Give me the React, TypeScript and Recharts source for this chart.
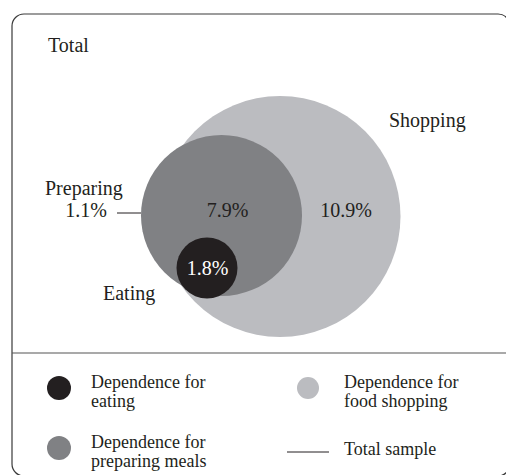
import {
  ScatterChart,
  Scatter,
  XAxis,
  YAxis,
  ReferenceArea,
  ReferenceLine,
} from "recharts";

// Chart is laid out in plot units that map 1:1 to pixels
const CHART_W = 506;
const CHART_H = 475;

// Venn sets: centre and radius of each circle
const setNames = ["Shopping", "Preparing", "Eating"];
const setX = [280, 221.5, 207];
const setY = [216.5, 215.5, 268];
const setR = [120.5, 80.5, 30.5];

// Region percentages
const pctLabels = ["10.9%", "7.9%", "1.8%", "1.1%"];
const pctX = [346, 227.5, 207.5, 86];
const pctY = [217, 217, 275, 217];

// Set name labels
const nameLabels = ["Total", "Shopping", "Preparing", "Eating"];
const nameX = [48, 389, 45, 103];
const nameY = [52, 127, 195, 300];

// Legend entries
const legendLines = [
  ["Dependence for", "eating"],
  ["Dependence for", "preparing meals"],
  ["Dependence for", "food shopping"],
  ["Total sample"],
];
const legendX = [59, 59, 308, 308];
const legendY = [388, 448, 388, 452];

const COLORS: Record<string, string> = {
  Shopping: "#BBBCC0",
  Preparing: "#808184",
  Eating: "#231F20",
};
const INK = "#231F20";
const FONT = "'Liberation Serif', 'Times New Roman', serif";

const circleData = setNames.map((name, i) => ({
  name,
  x: setX[i],
  y: setY[i],
  r: setR[i],
}));

const pctData = pctLabels.map((label, i) => ({
  label,
  x: pctX[i],
  y: pctY[i],
  white: label === "1.8%",
}));

const nameData = nameLabels.map((label, i) => ({
  label,
  x: nameX[i],
  y: nameY[i],
}));

const legendMarkers = [
  { x: legendX[0], y: legendY[0], r: 12, fill: COLORS.Eating },
  { x: legendX[1], y: legendY[1], r: 12, fill: COLORS.Preparing },
  { x: legendX[2], y: legendY[2], r: 11, fill: COLORS.Shopping },
];

const legendText = legendLines.map((lines, i) => ({
  lines,
  x: legendX[i] + (i < 2 ? 32 : 36),
  y: i === 3 ? 455 : legendY[i],
}));

// pixels per plot unit
const unit = 1;

const CircleShape = (props: any) => (
  <circle
    cx={props.cx}
    cy={props.cy}
    r={props.payload.r * unit}
    fill={props.payload.fill ?? COLORS[props.payload.name]}
  />
);

const PctShape = (props: any) => (
  <text
    x={props.cx}
    y={props.cy}
    textAnchor="middle"
    fontFamily={FONT}
    fontSize={20}
    fill={props.payload.white ? "#FFFFFF" : INK}
  >
    {props.payload.label}
  </text>
);

const NameShape = (props: any) => (
  <text x={props.cx} y={props.cy} fontFamily={FONT} fontSize={20} fill={INK}>
    {props.payload.label}
  </text>
);

const LegendTextShape = (props: any) => (
  <text x={props.cx} y={props.cy} fontFamily={FONT} fontSize={18} fill={INK}>
    {props.payload.lines.map((line: string, i: number) => (
      <tspan key={line} x={props.cx} dy={i === 0 ? 0 : 18.5}>
        {line}
      </tspan>
    ))}
  </text>
);

export default function App() {
  return (
    <div style={{ position: "absolute", left: 0, top: 0, background: "#fff" }}>
      <ScatterChart
        width={CHART_W}
        height={CHART_H}
        margin={{ top: 0, right: 0, bottom: 0, left: 0 }}
      >
        <XAxis type="number" dataKey="x" domain={[0, CHART_W]} hide />
        <YAxis type="number" dataKey="y" domain={[0, CHART_H]} reversed hide />

        {/* Outer frame (runs off the right and bottom edges) and separator */}
        <ReferenceArea
          x1={12}
          x2={510}
          y1={14}
          y2={476}
          ifOverflow="visible"
          fill="none"
          fillOpacity={0}
          stroke="#3a3a3a"
          strokeWidth={1.2}
          radius={12}
        />
        <ReferenceLine
          segment={[
            { x: 12, y: 353 },
            { x: CHART_W, y: 353 },
          ]}
          stroke="#555"
          strokeWidth={1.2}
        />

        <Scatter
          data={circleData}
          shape={CircleShape}
          isAnimationActive={false}
        />

        {/* Leader line for Preparing-only region */}
        <ReferenceLine
          segment={[
            { x: 117, y: 213 },
            { x: 141, y: 213 },
          ]}
          stroke={INK}
          strokeWidth={1}
        />

        <Scatter data={pctData} shape={PctShape} isAnimationActive={false} />
        <Scatter data={nameData} shape={NameShape} isAnimationActive={false} />

        {/* Legend */}
        <Scatter
          data={legendMarkers}
          shape={CircleShape}
          isAnimationActive={false}
        />
        <ReferenceLine
          segment={[
            { x: 287, y: legendY[3] },
            { x: 329, y: legendY[3] },
          ]}
          stroke={INK}
          strokeWidth={1}
        />
        <Scatter
          data={legendText}
          shape={LegendTextShape}
          isAnimationActive={false}
        />
      </ScatterChart>
    </div>
  );
}
